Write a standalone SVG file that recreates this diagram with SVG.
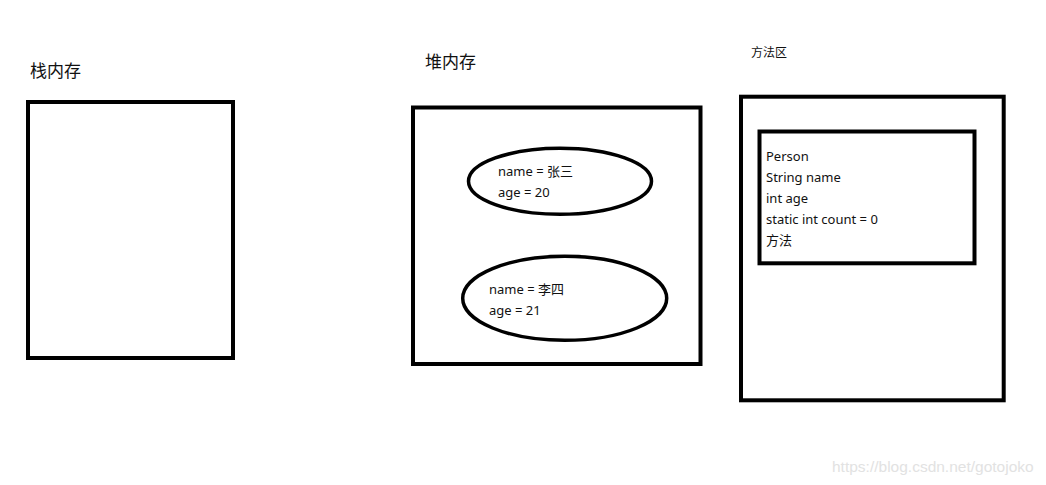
<svg xmlns="http://www.w3.org/2000/svg" width="1046" height="485" viewBox="0 0 1046 485">
<style>
.box{fill:none;stroke:#000;stroke-width:4}
.ell{fill:none;stroke:#000;stroke-width:3.5}
text{font-family:"Noto Sans","Noto Sans CJK SC",sans-serif;fill:#111}
.t{font-size:13px}
.h{font-size:17px}
.s{font-size:12px}
.wm{font-size:15.5px;fill:#e2e2e2;font-family:"Liberation Sans",sans-serif}
</style>
<rect width="1046" height="485" fill="#fff"/>
<g id="stack">
<text class="h" x="30" y="77">栈内存</text>
<rect class="box" x="28" y="102" width="205" height="256"/>
</g>
<g id="heap">
<text class="h" x="425" y="68">堆内存</text>
<rect class="box" x="413" y="107.5" width="287.5" height="256.5"/>
</g>
<g id="obj1">
<ellipse class="ell" cx="560" cy="181.3" rx="91.5" ry="33"/>
<text class="t" x="498" y="176">name = 张三</text>
<text class="t" x="498" y="197">age = 20</text>
</g>
<g id="obj2">
<ellipse class="ell" cx="564.7" cy="298.3" rx="102" ry="42"/>
<text class="t" x="489" y="294">name = 李四</text>
<text class="t" x="489" y="315">age = 21</text>
</g>
<g id="method">
<text class="s" x="751" y="57">方法区</text>
<rect class="box" x="741" y="96.7" width="262.7" height="303.6"/>
</g>
<g id="person">
<rect class="box" x="759.5" y="131.5" width="215" height="131.8"/>
<text class="t" x="766" y="161">Person</text>
<text class="t" x="766" y="182">String name</text>
<text class="t" x="766" y="203">int age</text>
<text class="t" x="766" y="224">static int count = 0</text>
<text class="t" x="766" y="245">方法</text>
</g>
<g id="connectors"></g>
<text class="wm" x="832" y="472">https://blog.csdn.net/gotojoko</text>
</svg>
